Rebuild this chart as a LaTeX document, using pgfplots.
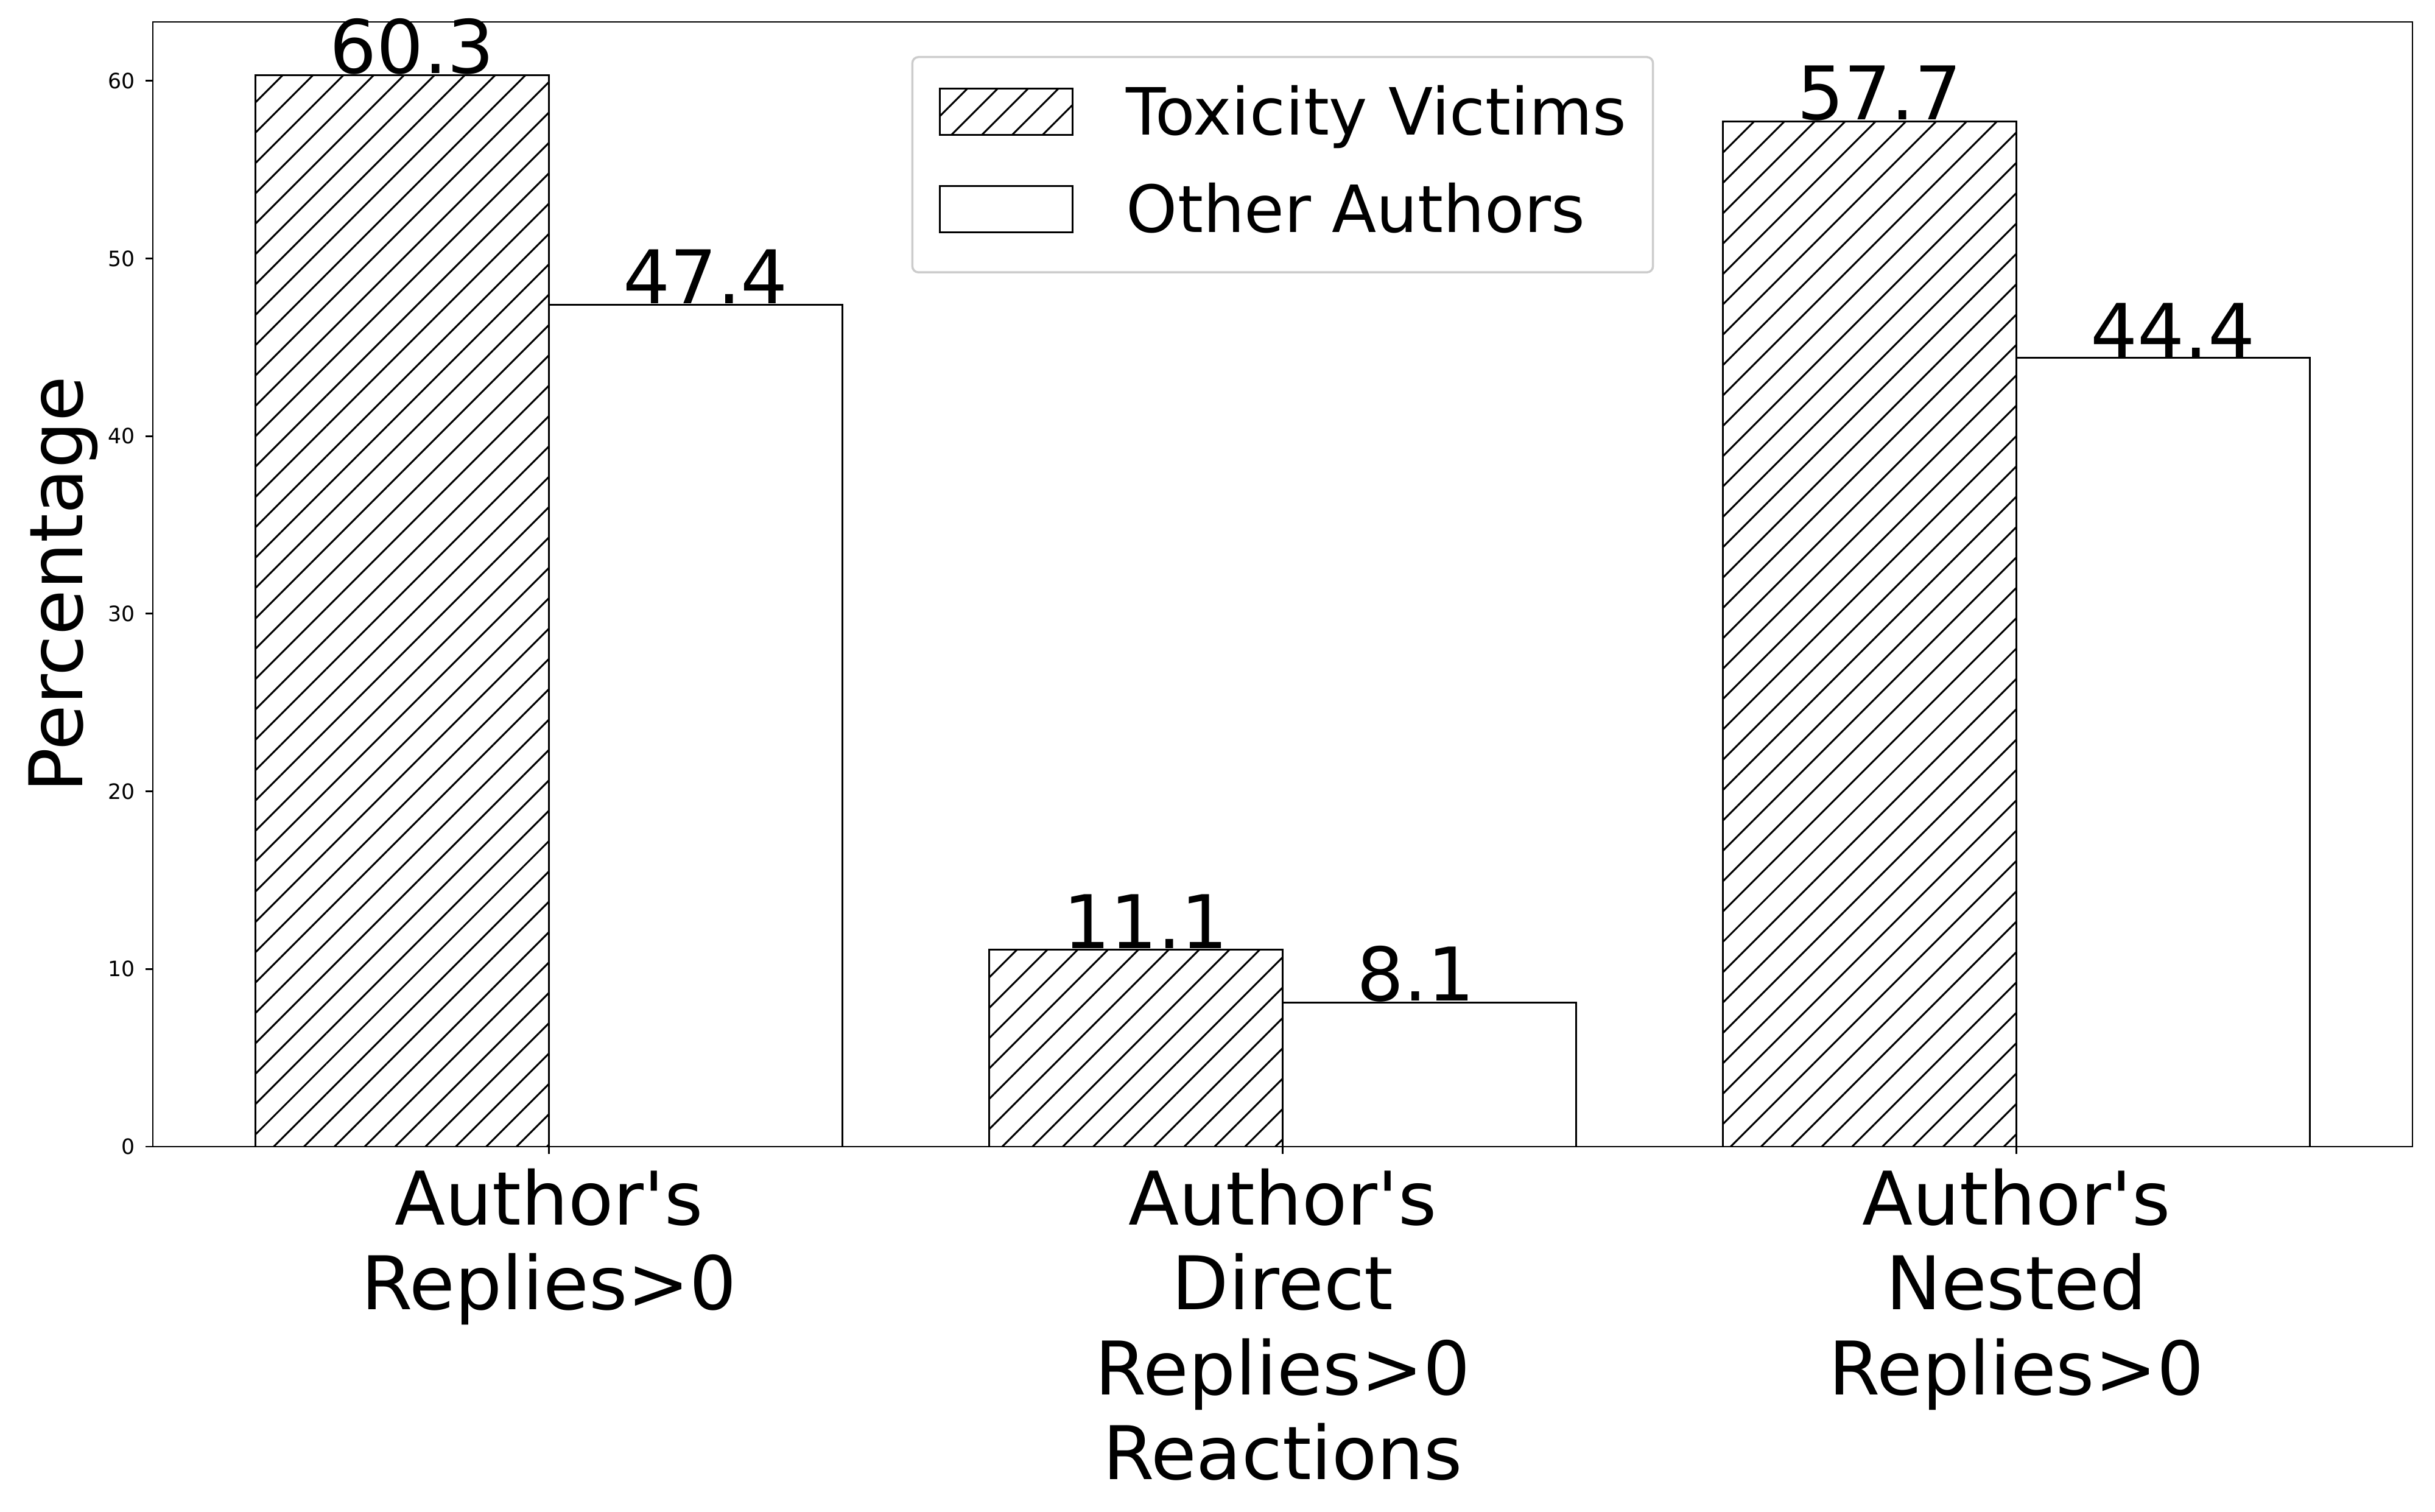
\documentclass[border=0pt]{standalone}
\usepackage{fontspec}
\setmainfont{DejaVu Sans}
\usepackage{pgfplots}
\pgfplotsset{compat=1.18}
\usetikzlibrary{patterns.meta}
\newcommand{\ap}{\textquotesingle}
\begin{document}
\begin{tikzpicture}
\useasboundingbox (-50.2pt,-119.8pt) rectangle (749.6pt,376.6pt);
\begin{axis}[
  at={(0pt,0pt)}, anchor=south west,
  scale only axis, width=742.2pt, height=369.4pt,
  xmin=-0.54, xmax=2.54, ymin=0, ymax=63.315,
  axis line style={line width=0.56pt, black},
  tick style={line width=0.56pt, black},
  tick align=outside, major tick length=2.4pt,
  xtick pos=bottom, ytick pos=left,
  xtick={0,1,2},
  xticklabels={{Author\ap s\\Replies>0},{Author\ap s\\Direct\\Replies>0\\Reactions},{Author\ap s\\Nested\\Replies>0}},
  xticklabel style={font=\fontsize{24.3}{27.9}\selectfont, align=center, inner sep=0pt, yshift=-4.6pt},
  ytick={0,10,20,30,40,50,60},
  yticklabel style={font=\fontsize{6.94}{8.3}\selectfont},
  /pgf/number format/assume math mode=true,
  ylabel={Percentage},
  ylabel style={font=\fontsize{24.3}{29}\selectfont, at={(axis description cs:-0.031,0.5)}, anchor=base},
  legend style={at={(0.5,0.9697)}, anchor=north, draw=black!20, line width=0.7pt, rounded corners=2pt, fill=white,
    font=\fontsize{21.4}{25}\selectfont, inner xsep=8.7pt, inner ysep=9.1pt, row sep=11.5pt, column sep=17.4pt,
    nodes={inner sep=0pt, text height=16.5pt, text depth=4pt}},
  legend cell align=left,
  legend image code/.code={\draw[#1, sharp corners, line width=0.6pt, draw=black] (0pt,-6.25pt) rectangle (43.6pt,9.05pt);},
  nodes near coords={\pgfmathprintnumber[fixed,fixed zerofill,precision=1]{\pgfplotspointmeta}},
]
\addplot[ybar, bar width=0.4, bar shift=0pt, draw=black, line width=0.6pt,
  pattern={Lines[angle=45,distance=7.05pt,line width=0.6pt]}, pattern color=black,
  every node near coord/.append style={font=\fontsize{24.3}{29}\selectfont, inner sep=0pt, anchor=south west, xshift=-24.1pt, black}]
  coordinates {(-0.2,60.3) (0.8,11.1) (1.8,57.7)};
\addlegendentry{Toxicity Victims}
\addplot[ybar, bar width=0.4, bar shift=0pt, draw=black, line width=0.6pt, fill=white,
  every node near coord/.append style={font=\fontsize{24.3}{29}\selectfont, inner sep=0pt, anchor=south west, xshift=-24.1pt, black}]
  coordinates {(0.2,47.4) (1.2,8.1) (2.2,44.4)};
\addlegendentry{Other Authors}
\end{axis}
\end{tikzpicture}
\end{document}
